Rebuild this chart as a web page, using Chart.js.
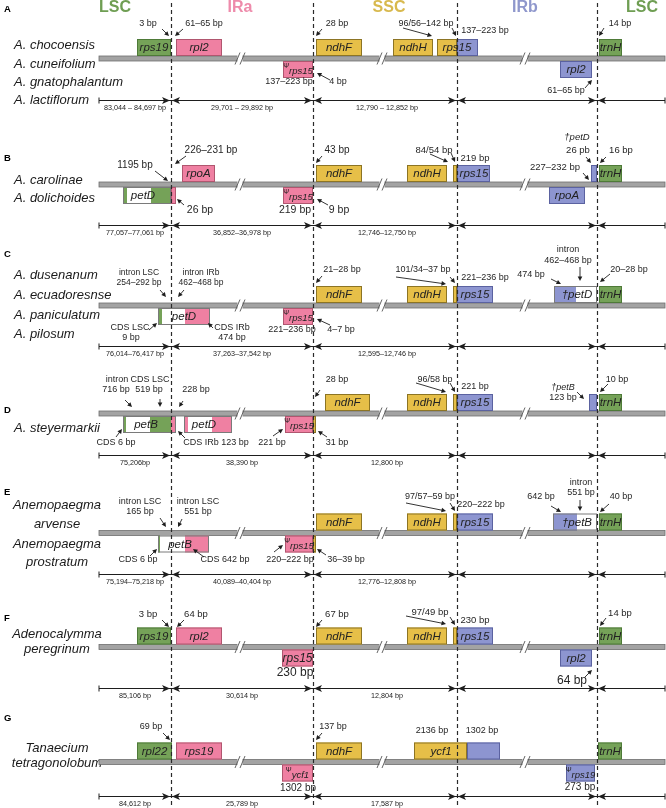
<!DOCTYPE html>
<html><head><meta charset="utf-8">
<script src="https://cdn.jsdelivr.net/npm/chart.js@4/dist/chart.umd.min.js"></script>
<style>html,body{margin:0;padding:0;background:#fff}canvas{display:block}</style>
</head><body>
<canvas id="c" width="666" height="808"></canvas>
<script>
// ---------- data (diagram units) ----------
const regionNames = ['LSC','IRa','SSC','IRb','LSC'];
const regionX = [115, 240, 389, 525, 642];
const regionColors = ['#6f9e53','#ee8bab','#d8b94e','#8f97cc','#6f9e53'];
const junctions = [171, 313, 457, 597];
const breakMarks = [240, 382, 525];
const backboneStart = 99, backboneEnd = 665;
const panelLetters = ['A','B','C','D','E','F','G'];
const panelLetterY = [9, 158, 254, 410, 492, 618, 718];
const panelBackboneY = [58.5, 184.5, 305.5, 413.5, 533, 647, 762];
const spanRowY = [100, 225, 346, 455, 574, 688, 796];
const spanLabelX = [135, 242, 387];
const spanLabels = [
  ['83,044 – 84,697 bp','29,701 – 29,892 bp','12,790 – 12,852 bp'],
  ['77,057–77,061 bp','36,852–36,978 bp','12,746–12,750 bp'],
  ['76,014–76,417 bp','37,263–37,542 bp','12,595–12,746 bp'],
  ['75,206bp','38,390 bp','12,800 bp'],
  ['75,194–75,218 bp','40,089–40,404 bp','12,776–12,808 bp'],
  ['85,106 bp','30,614 bp','12,804 bp'],
  ['84,612 bp','25,789 bp','17,587 bp']
];
const speciesNames = [
  {t:'A. chocoensis',x:14,y:45,a:'left'},{t:'A. cuneifolium',x:14,y:64,a:'left'},
  {t:'A. gnatophalantum',x:14,y:82,a:'left'},{t:'A. lactiflorum',x:14,y:100,a:'left'},
  {t:'A. carolinae',x:14,y:180,a:'left'},{t:'A. dolichoides',x:14,y:198,a:'left'},
  {t:'A. dusenanum',x:14,y:275,a:'left'},{t:'A. ecuadoresnse',x:14,y:295,a:'left'},
  {t:'A. paniculatum',x:14,y:315,a:'left'},{t:'A. pilosum',x:14,y:334,a:'left'},
  {t:'A. steyermarkii',x:14,y:428,a:'left'},
  {t:'Anemopaegma',x:57,y:505,a:'center'},{t:'arvense',x:57,y:524,a:'center'},
  {t:'Anemopaegma',x:57,y:544,a:'center'},{t:'prostratum',x:57,y:562,a:'center'},
  {t:'Adenocalymma',x:57,y:634,a:'center'},{t:'peregrinum',x:57,y:649,a:'center'},
  {t:'Tanaecium',x:57,y:748,a:'center'},{t:'tetragonolobum',x:57,y:763,a:'center'}
];
// genes: panel, side (u = above, d = below), segments [start,end,colour], label, label x
const genes = [
  {p:0,s:'u',segs:[[137,171,'g']],t:'rps19'},
  {p:0,s:'u',segs:[[176,222,'p']],t:'rpl2'},
  {p:0,s:'u',segs:[[316,362,'y']],t:'ndhF'},
  {p:0,s:'u',segs:[[393,433,'y']],t:'ndhH'},
  {p:0,s:'u',segs:[[437,457,'y'],[457,478,'b']],t:'rps15',lx:457},
  {p:0,s:'u',segs:[[599,622,'g']],t:'trnH'},
  {p:0,s:'d',segs:[[283,313,'p']],t:'Ψrps15'},
  {p:0,s:'d',segs:[[560,592,'b']],t:'rpl2'},

  {p:1,s:'u',segs:[[182,215,'p']],t:'rpoA'},
  {p:1,s:'u',segs:[[316,362,'y']],t:'ndhF'},
  {p:1,s:'u',segs:[[407,447,'y']],t:'ndhH'},
  {p:1,s:'u',segs:[[453,457,'y'],[457,490,'b']],t:'rps15',lx:474},
  {p:1,s:'u',segs:[[591,597,'b']],t:''},
  {p:1,s:'u',segs:[[599,622,'g']],t:'trnH'},
  {p:1,s:'d',segs:[[123,127,'g'],[127,151,'w'],[151,171,'g']],t:'petD',lx:143,e:'k'},
  {p:1,s:'d',segs:[[171,176,'p']],t:''},
  {p:1,s:'d',segs:[[283,313,'p']],t:'Ψrps15'},
  {p:1,s:'d',segs:[[549,585,'b']],t:'rpoA'},

  {p:2,s:'u',segs:[[316,362,'y']],t:'ndhF'},
  {p:2,s:'u',segs:[[407,447,'y']],t:'ndhH'},
  {p:2,s:'u',segs:[[453,457,'y'],[457,493,'b']],t:'rps15',lx:475},
  {p:2,s:'u',segs:[[554,576,'b'],[576,597,'w']],t:'†petD',lx:577,e:'k'},
  {p:2,s:'u',segs:[[599,622,'g']],t:'trnH'},
  {p:2,s:'d',segs:[[158,162,'g'],[162,185,'w'],[185,210,'p']],t:'petD',lx:184,e:'k'},
  {p:2,s:'d',segs:[[283,313,'p']],t:'Ψrps15'},

  {p:3,s:'u',segs:[[325,370,'y']],t:'ndhF'},
  {p:3,s:'u',segs:[[407,447,'y']],t:'ndhH'},
  {p:3,s:'u',segs:[[453,457,'y'],[457,493,'b']],t:'rps15',lx:475},
  {p:3,s:'u',segs:[[589,597,'b']],t:''},
  {p:3,s:'u',segs:[[599,622,'g']],t:'trnH'},
  {p:3,s:'d',segs:[[123,126,'g'],[126,150,'w'],[150,171,'g'],[171,176,'p']],t:'petB',lx:146,e:'k'},
  {p:3,s:'d',segs:[[184,188,'p'],[188,212,'w'],[212,232,'p']],t:'petD',lx:204,e:'k'},
  {p:3,s:'d',segs:[[285,313,'p'],[313,316,'y']],t:'Ψrps15',lx:299},

  {p:4,s:'u',segs:[[316,362,'y']],t:'ndhF'},
  {p:4,s:'u',segs:[[407,447,'y']],t:'ndhH'},
  {p:4,s:'u',segs:[[453,457,'y'],[457,493,'b']],t:'rps15',lx:475},
  {p:4,s:'u',segs:[[553,577,'b'],[577,597,'w']],t:'†petB',lx:577,e:'k'},
  {p:4,s:'u',segs:[[599,622,'g']],t:'trnH'},
  {p:4,s:'d',segs:[[158,160,'g'],[160,185,'w'],[185,209,'p']],t:'petB',lx:180,e:'k'},
  {p:4,s:'d',segs:[[285,313,'p'],[313,316,'y']],t:'Ψrps15',lx:299},

  {p:5,s:'u',segs:[[137,171,'g']],t:'rps19'},
  {p:5,s:'u',segs:[[176,222,'p']],t:'rpl2'},
  {p:5,s:'u',segs:[[316,362,'y']],t:'ndhF'},
  {p:5,s:'u',segs:[[407,447,'y']],t:'ndhH'},
  {p:5,s:'u',segs:[[453,457,'y'],[457,493,'b']],t:'rps15',lx:475},
  {p:5,s:'u',segs:[[599,622,'g']],t:'trnH'},
  {p:5,s:'d',segs:[[282,313,'p']],t:'rps15'},
  {p:5,s:'d',segs:[[560,592,'b']],t:'rpl2'},

  {p:6,s:'u',segs:[[137,172,'g']],t:'rpl22'},
  {p:6,s:'u',segs:[[176,222,'p']],t:'rps19'},
  {p:6,s:'u',segs:[[316,362,'y']],t:'ndhF'},
  {p:6,s:'u',segs:[[414,467,'y'],[467,500,'b']],t:'ycf1',lx:441},
  {p:6,s:'u',segs:[[598,622,'g']],t:'trnH'},
  {p:6,s:'d',segs:[[282,313,'p']],t:'Ψycf1'},
  {p:6,s:'d',segs:[[566,595,'b']],t:'Ψrps19'}
];
// text notes: x, y, text, size
const notes = [
  [148,24,'3 bp',9],[204,24,'61–65 bp',9],[337,24,'28 bp',9],[426,24,'96/56–142 bp',9],
  [485,31,'137–223 bp',9],[620,24,'14 bp',9],[289,82,'137–223 bp',9],[338,82,'4 bp',9],[566,91,'61–65 bp',9],

  [211,150,'226–231 bp',10],[135,165,'1195 bp',10],[337,150,'43 bp',10],[434,150,'84/54 bp',9.5],
  [475,158,'219 bp',9.5],[578,150,'26 pb',9.5],[621,150,'16 bp',9.5],[555,167,'227–232 bp',9.5],
  [200,210,'26 bp',10.5],[295,210,'219 bp',10.5],[339,210,'9 bp',10.5],

  [139,273,'intron LSC',8.5],[139,283,'254–292 bp',8.5],[201,273,'intron IRb',8.5],[201,283,'462–468 bp',8.5],
  [342,270,'21–28 bp',9],[423,270,'101/34–37 bp',9],[485,278,'221–236 bp',9],[531,275,'474 bp',9],
  [568,250,'intron',9],[568,261,'462–468 bp',9],[629,270,'20–28 bp',9],
  [130,328,'CDS LSC',9],[131,338,'9 bp',9],[232,328,'CDS IRb',9],[232,338,'474 bp',9],
  [292,330,'221–236 bp',9],[341,330,'4–7 bp',9],

  [117,380,'intron',9],[116,390,'716 bp',9],[150,380,'CDS LSC',9],[149,390,'519 bp',9],[196,390,'228 bp',9],
  [337,380,'28 bp',9],[435,380,'96/58 bp',9],[475,387,'221 bp',9],[563,398,'123 bp',9],
  [617,380,'10 bp',9],[116,443,'CDS 6 bp',9],[216,443,'CDS IRb 123 bp',9],[272,443,'221 bp',9],[337,443,'31 bp',9],

  [140,502,'intron LSC',9],[140,512,'165 bp',9],[198,502,'intron LSC',9],[198,512,'551 bp',9],
  [430,497,'97/57–59 bp',9],[481,505,'220–222 bp',9],[541,497,'642 bp',9],[581,483,'intron',9],
  [581,493,'551 bp',9],[621,497,'40 bp',9],[138,560,'CDS 6 bp',9],[225,560,'CDS 642 bp',9],
  [290,560,'220–222 bp',9],[346,560,'36–39 bp',9],

  [148,614,'3 bp',9.5],[196,614,'64 bp',9.5],[337,614,'67 bp',9.5],[430,612,'97/49 bp',9.5],
  [475,620,'230 bp',9.5],[620,613,'14 bp',9.5],[295,673,'230 bp',12],[572,681,'64 bp',12],

  [151,727,'69 bp',9],[333,727,'137 bp',9],[432,731,'2136 bp',9],[482,731,'1302 bp',9],
  [298,788,'1302 bp',10],[580,787,'273 bp',10]
];
// italic gene-name notes outside boxes
const italicNotes = [[577,137,'†petD',9.5],[563,387,'†petB',9]];
// pointers: from (x1,y1) to (x2,y2)
const pointers = [
  [162,29,169,36],[183,29,175,36],[322,29,316,36],[403,28,432,36],[452,28,456,36],[604,28,599,36],
  [330,80,317,73],[585,88,592,80],
  [155,171,168,181],[186,156,175,164],[322,156,316,163],[430,154,448,162],[451,153,455,162],
  [586,157,591,163],[606,157,600,163],[583,173,589,180],[184,205,177,199],[328,205,317,199],
  [160,290,166,297],[184,290,178,297],[322,276,316,283],[396,277,446,284],[450,277,455,283],
  [551,279,561,284],[580,267,580,281],[610,274,600,282],[149,330,157,323],[213,328,208,323],[330,325,317,319],
  [125,400,132,407],[160,399,160,407],[183,401,179,407],[320,390,315,397],[416,383,446,392],[450,383,455,392],
  [577,392,584,399],[608,384,600,392],[116,437,122,429],[185,438,178,431],[273,436,283,429],[327,437,318,431],
  [160,518,166,527],[182,519,178,527],[406,503,446,511],[450,503,455,511],[551,506,561,512],[580,500,580,511],
  [609,504,600,512],[150,556,157,549],[204,557,193,549],[274,552,283,545],[326,555,317,549],
  [162,620,169,627],[184,620,177,627],[322,620,316,627],[406,616,446,624],[450,617,455,625],[606,618,600,626],[585,677,592,670],
  [163,733,170,740],[322,733,316,740]
];

// ---------- styles ----------
const FILL = {g:'#75a258',p:'#ef80a2',y:'#e6bf48',b:'#8d95d0',w:'#ffffff'};
const EDGE = {g:'#4e7a38',p:'#b0566f',y:'#8c7424',b:'#5b62a0',w:'#888888',k:'#7a7a7a'};
const SANS = '"Liberation Sans", Arial, sans-serif';

const diagram = {
  id:'diagram',
  afterDraw(chart){
    const ctx = chart.ctx, X = v => chart.scales.x.getPixelForValue(v), Y = v => chart.scales.y.getPixelForValue(v);
    ctx.save();
    ctx.textBaseline = 'middle';
    // region headers
    ctx.textAlign = 'center';
    ctx.font = 'bold 16px ' + SANS;
    regionNames.forEach((n,i)=>{ ctx.fillStyle = regionColors[i]; ctx.fillText(n, X(regionX[i]), Y(8)); });
    // panel letters
    ctx.fillStyle = '#000'; ctx.textAlign='left'; ctx.font = 'bold 9.5px ' + SANS;
    panelLetters.forEach((l,i)=>ctx.fillText(l, X(4), Y(panelLetterY[i])));
    // species
    ctx.fillStyle = '#1a1a1a'; ctx.font = 'italic 13px ' + SANS;
    speciesNames.forEach(s=>{ ctx.textAlign = s.a; ctx.fillText(s.t, X(s.x), Y(s.y)); });
    // backbones
    panelBackboneY.forEach(yc=>{
      ctx.fillStyle = '#a3a3a3'; ctx.strokeStyle = '#6e6e6e'; ctx.lineWidth = 0.8;
      const x0 = X(backboneStart), x1 = X(backboneEnd), y0 = Y(yc-2.5), y1 = Y(yc+2.5);
      ctx.fillRect(x0,y0,x1-x0,y1-y0); ctx.strokeRect(x0,y0,x1-x0,y1-y0);
      breakMarks.forEach(b=>{
        ctx.fillStyle = '#fff'; ctx.fillRect(X(b-2.5), Y(yc-3.5), X(b+2.5)-X(b-2.5), Y(yc+3.5)-Y(yc-3.5));
        ctx.strokeStyle = '#555'; ctx.lineWidth = 0.9;
        [-2.5, 2.5].forEach(o=>{ ctx.beginPath(); ctx.moveTo(X(b+o-2.5),Y(yc+6)); ctx.lineTo(X(b+o+2.5),Y(yc-6)); ctx.stroke(); });
      });
    });
    // genes
    genes.forEach(g=>{
      const yc = panelBackboneY[g.p];
      const top = g.s==='u' ? yc-19.5 : yc+2.5, bot = g.s==='u' ? yc-2.5 : yc+19.5;
      const x0 = g.segs[0][0], x1 = g.segs[g.segs.length-1][1];
      g.segs.forEach(s=>{ ctx.fillStyle = FILL[s[2]]; ctx.fillRect(X(s[0]),Y(top),X(s[1])-X(s[0]),Y(bot)-Y(top)); });
      ctx.lineWidth = 1;
      if (g.e) { ctx.strokeStyle = EDGE[g.e]; ctx.strokeRect(X(x0)+0.5,Y(top)+0.5,X(x1)-X(x0)-1,Y(bot)-Y(top)-1); }
      else g.segs.forEach(s=>{ ctx.strokeStyle = EDGE[s[2]]; ctx.strokeRect(X(s[0])+0.5,Y(top)+0.5,X(s[1])-X(s[0])-1,Y(bot)-Y(top)-1); });
      if (!g.t) return;
      const cx = X(g.lx!==undefined ? g.lx : (x0+x1)/2), cy = Y((top+bot)/2);
      ctx.fillStyle = '#222'; ctx.textAlign = 'left';
      if (g.t[0]==='Ψ') {
        const name = g.t.slice(1);
        ctx.font = '7px ' + SANS; const w1 = ctx.measureText('Ψ').width;
        ctx.font = 'italic 9.5px ' + SANS; const w2 = ctx.measureText(name).width;
        const sx = cx - (w1+w2)/2;
        ctx.font = '7px ' + SANS; ctx.fillText('Ψ', sx, cy-3);
        ctx.font = 'italic 9.5px ' + SANS; ctx.fillText(name, sx+w1, cy+2);
      } else {
        ctx.font = (g.t==='rps15' && g.s==='d' ? 'italic 12px ' : 'italic 11.5px ') + SANS;
        ctx.textAlign = 'center'; ctx.fillText(g.t, cx, cy+0.5);
      }
    });
    // junction dashed lines
    ctx.strokeStyle = '#2a2a2a'; ctx.lineWidth = 1.2; ctx.setLineDash([4,3]);
    junctions.forEach(j=>{ ctx.beginPath(); ctx.moveTo(Math.round(X(j))+0.5, Y(3)); ctx.lineTo(Math.round(X(j))+0.5, Y(808)); ctx.stroke(); });
    ctx.setLineDash([]);
    // span arrows
    const head = (tx, y, dir) => { ctx.beginPath(); ctx.moveTo(tx, y); ctx.lineTo(tx-dir*8, y-3.5); ctx.lineTo(tx-dir*6, y); ctx.lineTo(tx-dir*8, y+3.5); ctx.closePath(); ctx.fill(); };
    ctx.strokeStyle = '#1e1e1e'; ctx.fillStyle = '#1e1e1e'; ctx.lineWidth = 1;
    spanRowY.forEach((sy,i)=>{
      const y = Math.round(Y(sy))+0.5;
      ctx.beginPath(); ctx.moveTo(X(backboneStart), y); ctx.lineTo(X(backboneEnd), y); ctx.stroke();
      [backboneStart, backboneEnd].forEach(e=>{ ctx.beginPath(); ctx.moveTo(X(e), y-3); ctx.lineTo(X(e), y+3); ctx.stroke(); });
      junctions.forEach(j=>{ head(X(j)-1, y, 1); head(X(j)+1, y, -1); });
      ctx.font = '7.2px ' + SANS; ctx.textAlign = 'center'; ctx.fillStyle = '#222';
      spanLabels[i].forEach((t,k)=>ctx.fillText(t, X(spanLabelX[k]), Y(sy+8.5)));
      ctx.fillStyle = '#1e1e1e';
    });
    // notes
    ctx.fillStyle = '#262626'; ctx.textAlign = 'center';
    notes.forEach(n=>{ ctx.font = n[3]+'px ' + SANS; ctx.fillText(n[2], X(n[0]), Y(n[1])); });
    italicNotes.forEach(n=>{ ctx.font = 'italic '+n[3]+'px ' + SANS; ctx.fillText(n[2], X(n[0]), Y(n[1])); });
    // pointers
    ctx.strokeStyle = '#1e1e1e'; ctx.fillStyle = '#1e1e1e'; ctx.lineWidth = 0.9;
    pointers.forEach(a=>{
      const x1 = X(a[0]), y1 = Y(a[1]), x2 = X(a[2]), y2 = Y(a[3]);
      const ang = Math.atan2(y2-y1, x2-x1), L = 4.5, W = 2.3;
      ctx.beginPath(); ctx.moveTo(x1,y1); ctx.lineTo(x2-Math.cos(ang)*3, y2-Math.sin(ang)*3); ctx.stroke();
      ctx.beginPath(); ctx.moveTo(x2,y2);
      ctx.lineTo(x2-Math.cos(ang)*L - Math.sin(ang)*W, y2-Math.sin(ang)*L + Math.cos(ang)*W);
      ctx.lineTo(x2-Math.cos(ang)*L + Math.sin(ang)*W, y2-Math.sin(ang)*L - Math.cos(ang)*W);
      ctx.closePath(); ctx.fill();
    });
    ctx.restore();
  }
};

new Chart(document.getElementById('c'), {
  type: 'scatter',
  data: { datasets: [{ data: [], pointRadius: 0 }] },
  options: {
    responsive: false, animation: false, devicePixelRatio: 1,
    layout: { padding: 0 },
    plugins: { legend: { display: false }, tooltip: { enabled: false } },
    scales: {
      x: { type: 'linear', min: 0, max: 666, display: false },
      y: { type: 'linear', min: 0, max: 808, reverse: true, display: false }
    }
  },
  plugins: [diagram]
});
</script>
</body></html>
